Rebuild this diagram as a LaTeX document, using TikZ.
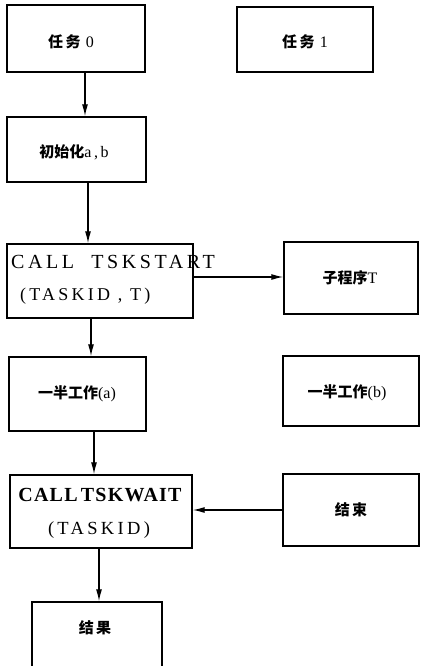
\documentclass[tikz,border=0pt]{standalone}
\usepackage{fontspec}
\setmainfont{Liberation Serif}
\newfontfamily\cjk{Noto Sans CJK SC}
\newfontfamily\spaced{Liberation Serif}[LetterSpace=18]
\newfontfamily\spacedb{Liberation Serif Bold}[LetterSpace=6]
\usetikzlibrary{arrows.meta}
\begin{document}
\begin{tikzpicture}[x=1pt,y=-1pt,
  box/.style={draw,line width=1.4pt,rectangle,inner sep=0pt,anchor=center},
  lbl/.style={inner sep=0pt,anchor=center,font=\fontsize{16}{18}\selectfont},
  arr/.style={line width=1.3pt,-{Latex[length=12pt,width=6pt]}},
  ln/.style={line width=1.2pt}]
\useasboundingbox (0,0) rectangle (421,666);
% boxes
\node[box,minimum width=138,minimum height=67] (t0) at (76,38.5) {};
\node[box,minimum width=136,minimum height=65] (t1) at (305,39.5) {};
\node[box,minimum width=139,minimum height=65] (init) at (76.5,149.5) {};
\node[box,minimum width=186,minimum height=74] (start) at (100,281) {};
\node[box,minimum width=134,minimum height=72] (sub) at (351,278) {};
\node[box,minimum width=137,minimum height=74] (halfa) at (77.5,394) {};
\node[box,minimum width=136,minimum height=70] (halfb) at (351,391) {};
\node[box,minimum width=182,minimum height=73] (wait) at (101,511.5) {};
\node[box,minimum width=136,minimum height=72] (end) at (351,510) {};
\node[box,minimum width=130,minimum height=80] (result) at (97,642) {};
% labels
\node[lbl] (lt0) at (71,42) {{\cjk\bfseries\fontsize{15}{18}\selectfont 任\,务}\,\,0};
\node[lbl] (lt1) at (305,42) {{\cjk\bfseries\fontsize{15}{18}\selectfont 任\,务}\,\,1};
\node[lbl] (linit) at (74,152) {{\cjk\bfseries\fontsize{15}{18}\selectfont 初始化}a\,,\,b};
\node[lbl,anchor=west,font=\fontsize{20}{22}\selectfont\spaced] (ls1) at (11,262) {CALL\ \ TSKSTART};
\node[lbl,anchor=west,font=\fontsize{18}{21}\selectfont\spaced] (ls2) at (20,296) {(TASKID\ ,\ T)};
\node[lbl] (lsub) at (350,278) {{\cjk\bfseries\fontsize{15}{18}\selectfont 子程序}T};
\node[lbl] (lha) at (77,394) {{\cjk\bfseries\fontsize{15}{18}\selectfont 一半工作}(a)};
\node[lbl] (lhb) at (347,393) {{\cjk\bfseries\fontsize{15}{18}\selectfont 一半工作}(b)};
\node[lbl,font=\fontsize{20}{22}\selectfont\spacedb] (lw1) at (100,495) {CALL\,TSKWAIT};
\node[lbl,font=\fontsize{18.5}{21}\selectfont\spaced] (lw2) at (99,530) {(TASKID)};
\node[lbl] (lend) at (351,510) {{\cjk\bfseries\fontsize{15}{18}\selectfont 结\,束}};
\node[lbl] (lres) at (95,628) {{\cjk\bfseries\fontsize{15}{18}\selectfont 结\,果}};
% connectors
\draw[arr] ([xshift=9pt]t0.south) -- ([xshift=8.5pt]init.north);
\draw[arr] ([xshift=11.5pt]init.south) -- ([xshift=-12pt]start.north);
\draw[arr] ([xshift=-9pt]start.south) -- ([xshift=13.5pt]halfa.north);
\draw[arr] ([xshift=16.5pt]halfa.south) -- ([xshift=-7pt]wait.north);
\draw[arr] ([xshift=-2pt]wait.south) -- ([xshift=2pt]result.north);
\draw[arr] ([yshift=4pt]start.east) -- ([yshift=1pt]sub.west);
\draw[arr] (end.west) -- ([yshift=1.5pt]wait.east);
\end{tikzpicture}
\end{document}
